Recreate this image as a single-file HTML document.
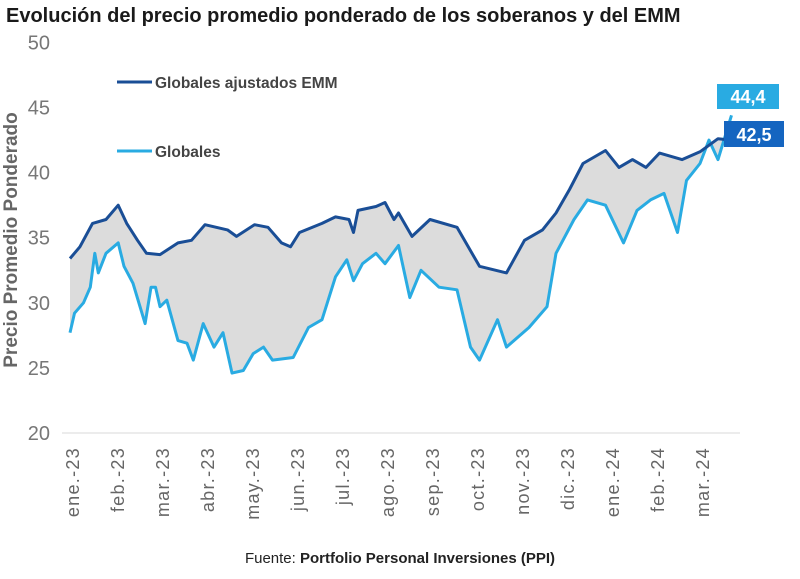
<!DOCTYPE html>
<html><head><meta charset="utf-8"><style>
body{margin:0;background:#fff;width:800px;height:574px;overflow:hidden;font-family:"Liberation Sans",sans-serif}
</style></head><body>
<svg width="800" height="574" xmlns="http://www.w3.org/2000/svg" font-family="Liberation Sans, sans-serif">
<text x="6" y="22" font-size="20" font-weight="bold" fill="#1a1a1a">Evolución del precio promedio ponderado de los soberanos y del EMM</text>
<text transform="translate(17,240) rotate(-90)" text-anchor="middle" font-size="19" font-weight="bold" fill="#666">Precio Promedio Ponderado</text>
<line x1="62" y1="433" x2="740" y2="433" stroke="#e6e6e6" stroke-width="1.5"/>
<g id="yticks"></g><g id="xticks"></g>
<path id="band" fill="#dcdcdc"/>
<path id="light" fill="none" stroke="#29abe2" stroke-width="3" stroke-linejoin="round"/>
<path id="dark" fill="none" stroke="#1a4e96" stroke-width="3" stroke-linejoin="round"/>
<line x1="117" y1="82" x2="152" y2="82" stroke="#1a4e96" stroke-width="3"/>
<text x="155" y="88" font-size="15.5" font-weight="bold" fill="#444">Globales ajustados EMM</text>
<line x1="117" y1="151" x2="152" y2="151" stroke="#29abe2" stroke-width="3"/>
<text x="155" y="157" font-size="15.5" font-weight="bold" fill="#444">Globales</text>
<rect x="717" y="84" width="62" height="25" fill="#29abe2"/>
<text x="748" y="103" text-anchor="middle" font-size="18" font-weight="bold" fill="#fff">44,4</text>
<rect x="724" y="121" width="60" height="26" fill="#1565c0"/>
<text x="754" y="141" text-anchor="middle" font-size="18" font-weight="bold" fill="#fff">42,5</text>
<text x="400" y="563" text-anchor="middle" font-size="15" fill="#222">Fuente: <tspan font-weight="bold">Portfolio Personal Inversiones (PPI)</tspan></text>
</svg>
<script>
const months=["ene.-23","feb.-23","mar.-23","abr.-23","may.-23","jun.-23","jul.-23","ago.-23","sep.-23","oct.-23","nov.-23","dic.-23","ene.-24","feb.-24","mar.-24"];
const yTicks=[20,25,30,35,40,45,50];
const darkT=[0,0.22,0.5,0.8,1.07,1.26,1.5,1.7,2,2.4,2.7,3.0,3.5,3.7,4.1,4.4,4.7,4.9,5.1,5.6,5.9,6.2,6.3,6.4,6.8,7.0,7.2,7.3,7.6,8.0,8.6,9.1,9.7,10.1,10.5,10.8,11.1,11.4,11.9,12.2,12.5,12.8,13.1,13.6,14.0,14.4,14.7];
const darkV=[33.4,34.3,36.1,36.4,37.5,36.1,34.8,33.8,33.7,34.6,34.8,36.0,35.6,35.1,36.0,35.8,34.6,34.3,35.4,36.1,36.6,36.4,35.4,37.1,37.4,37.7,36.4,36.9,35.1,36.4,35.8,32.8,32.3,34.8,35.6,36.9,38.7,40.7,41.7,40.4,41.0,40.4,41.5,41.0,41.6,42.6,42.5];
const lightT=[0,0.1,0.3,0.45,0.55,0.63,0.8,1.07,1.2,1.4,1.67,1.8,1.9,2,2.15,2.4,2.6,2.74,2.96,3.2,3.4,3.6,3.85,4.07,4.3,4.5,4.96,5.3,5.6,5.9,6.15,6.3,6.5,6.8,7.0,7.3,7.55,7.8,8.2,8.6,8.9,9.1,9.5,9.7,10.2,10.6,10.8,11.2,11.5,11.9,12.3,12.6,12.9,13.2,13.5,13.7,14.0,14.2,14.4,14.7];
const lightV=[27.7,29.2,30.0,31.2,33.8,32.3,33.8,34.6,32.8,31.5,28.4,31.2,31.2,29.7,30.2,27.1,26.9,25.6,28.4,26.6,27.7,24.6,24.8,26.1,26.6,25.6,25.8,28.1,28.7,32.0,33.3,31.7,33.0,33.8,33.0,34.4,30.4,32.5,31.2,31.0,26.6,25.6,28.7,26.6,28.1,29.7,33.8,36.4,37.9,37.5,34.6,37.1,37.9,38.4,35.4,39.4,40.7,42.5,41.0,44.4];
const X=m=>70+45*m, Y=v=>433-(v-20)*13.02;
const ns="http://www.w3.org/2000/svg";
const yt=document.getElementById('yticks');
yTicks.forEach(v=>{const t=document.createElementNS(ns,'text');t.setAttribute('x',50);t.setAttribute('y',Y(v)+7);t.setAttribute('text-anchor','end');t.setAttribute('font-size','20');t.setAttribute('fill','#777');t.textContent=v;


yt.appendChild(t);});
const xt=document.getElementById('xticks');
months.forEach((m,i)=>{const t=document.createElementNS(ns,'text');const x=X(i)+9;t.setAttribute('transform',`translate(${x},447) rotate(-90)`);t.setAttribute('font-size','18');t.setAttribute('letter-spacing','1.3');t.setAttribute('fill','#666');t.setAttribute('text-anchor','end');t.textContent=m;


xt.appendChild(t);});
const pts=(T,V)=>T.map((t,i)=>X(t).toFixed(1)+','+Y(V[i]).toFixed(1));
const d=pts(darkT,darkV), l=pts(lightT,lightV);
document.getElementById('dark').setAttribute('d','M'+d.join('L'));
document.getElementById('light').setAttribute('d','M'+l.join('L'));
document.getElementById('band').setAttribute('d','M'+d.join('L')+'L'+l.slice().reverse().join('L')+'Z');
</script>
</body></html>
